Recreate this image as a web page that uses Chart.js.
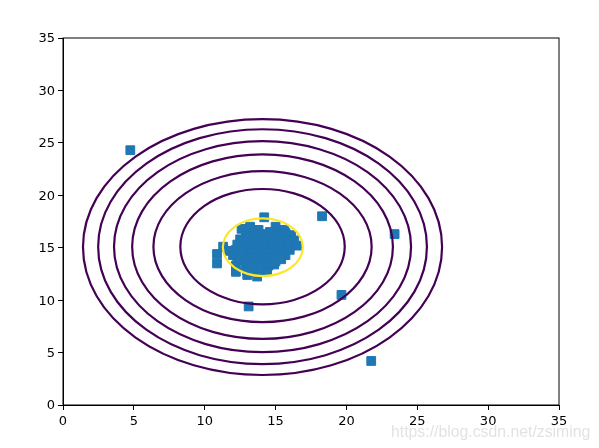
<!DOCTYPE html>
<html>
<head>
<meta charset="utf-8">
<title>Contours</title>
<script src="https://cdn.jsdelivr.net/npm/chart.js@4"></script>
<style>
    html, body { margin: 0; padding: 0; background: #fff; }
    canvas { display: block; }
</style>
</head>
<body>
<canvas id="contourChart" width="599" height="448"></canvas>
<script>
// ========== DATA ==========
const xTicks = [0, 5, 10, 15, 20, 25, 30, 35];
const yTicks = [0, 5, 10, 15, 20, 25, 30, 35];

const scatterX = [
    4.75, 18.28, 23.4, 19.65, 21.75, 13.1, 14.2,
    10.87, 10.87, 11.3, 12.2, 12.2, 13.0, 13.7,
    12.6, 13.2, 13.8, 15.0, 15.6,
    12.9, 13.5, 14.1, 14.6, 15.2, 15.7, 16.1,
    12.5, 13.0, 13.6, 14.1, 14.7, 15.3, 15.8, 16.3,
    12.3, 12.8, 13.4, 13.9, 14.5, 15.0, 15.6, 16.1, 16.55,
    11.7, 12.2, 12.8, 13.3, 13.9, 14.4, 15.0, 15.5, 16.0,
    12.0, 12.5, 13.1, 13.6, 14.2, 14.7, 15.3, 15.7,
    12.3, 12.8, 13.4, 13.9, 14.4, 15.0, 15.4,
    12.9, 13.5, 14.0, 14.5, 14.9,
    13.0, 13.6, 14.1, 14.4,
    // dense middle of the cloud
    13.2, 13.8, 14.4, 14.9, 15.5,
    12.7, 13.2, 13.7, 14.2, 14.8, 15.3, 15.9,
    12.5, 13.0, 13.6, 14.2, 14.7, 15.2, 15.8,
    12.2, 12.7, 13.3, 13.8, 14.3, 14.9, 15.4,
    12.6, 13.2, 13.7, 14.2, 14.7, 15.2,
    13.2, 13.8, 14.3, 14.7,
    13.4, 13.9
];
const scatterY = [
    24.3, 18.0, 16.3, 10.5, 4.2, 9.4, 17.9,
    14.4, 13.5, 15.1, 12.7, 13.3, 12.4, 12.25,
    16.8, 17.0, 16.7, 17.0, 16.7,
    16.2, 16.4, 16.3, 16.5, 16.3, 16.4, 16.2,
    15.8, 15.7, 15.9, 15.8, 15.7, 15.9, 15.8, 15.7,
    15.3, 15.4, 15.2, 15.3, 15.4, 15.2, 15.3, 15.3, 15.2,
    14.7, 14.8, 14.9, 14.8, 14.7, 14.8, 14.9, 14.7, 14.8,
    14.3, 14.2, 14.4, 14.3, 14.2, 14.3, 14.4, 14.3,
    13.8, 13.9, 13.7, 13.8, 13.9, 13.7, 13.9,
    13.3, 13.2, 13.4, 13.3, 13.4,
    12.8, 12.7, 12.9, 12.8,
    16.0, 16.1, 16.0, 16.1, 16.0,
    15.5, 15.6, 15.5, 15.6, 15.5, 15.6, 15.5,
    15.0, 15.1, 15.0, 15.1, 15.0, 15.1, 15.0,
    14.5, 14.6, 14.5, 14.6, 14.5, 14.6, 14.5,
    14.0, 14.1, 14.0, 14.1, 14.0, 14.1,
    13.5, 13.6, 13.5, 13.6,
    13.0, 13.1
];

// contour outlines, outermost first
const ring1X = [26.75, 25.79, 23.04, 18.93, 14.08, 9.23, 5.12, 2.37, 1.41, 2.37, 5.12, 9.23, 14.08, 18.93, 23.04, 25.79];
const ring1Y = [15.06, 19.73, 23.69, 26.33, 27.26, 26.33, 23.69, 19.73, 15.06, 10.39, 6.43, 3.79, 2.86, 3.79, 6.43, 10.39];
const ring2X = [25.68, 24.8, 22.28, 18.52, 14.08, 9.64, 5.88, 3.36, 2.48, 3.36, 5.88, 9.64, 14.08, 18.52, 22.28, 24.8];
const ring2Y = [15.1, 19.39, 23.02, 25.45, 26.3, 25.45, 23.02, 19.39, 15.1, 10.81, 7.18, 4.75, 3.9, 4.75, 7.18, 10.81];
const ring3X = [24.56, 23.76, 21.49, 18.09, 14.08, 10.07, 6.67, 4.4, 3.6, 4.4, 6.67, 10.07, 14.08, 18.09, 21.49, 23.76];
const ring3Y = [15.1, 18.95, 22.21, 24.39, 25.16, 24.39, 22.21, 18.95, 15.1, 11.25, 7.99, 5.81, 5.04, 5.81, 7.99, 11.25];
const ring4X = [23.28, 22.58, 20.58, 17.6, 14.08, 10.56, 7.58, 5.58, 4.88, 5.58, 7.58, 10.56, 14.08, 17.6, 20.58, 22.58];
const ring4Y = [15.1, 18.47, 21.32, 23.23, 23.9, 23.23, 21.32, 18.47, 15.1, 11.73, 8.88, 6.97, 6.3, 6.97, 8.88, 11.73];
const ring5X = [21.78, 21.19, 19.52, 17.03, 14.08, 11.13, 8.64, 6.97, 6.38, 6.97, 8.64, 11.13, 14.08, 17.03, 19.52, 21.19];
const ring5Y = [15.1, 17.86, 20.19, 21.75, 22.3, 21.75, 20.19, 17.86, 15.1, 12.34, 10.01, 8.45, 7.9, 8.45, 10.01, 12.34];
const ring6X = [19.88, 19.44, 18.18, 16.3, 14.08, 11.86, 9.98, 8.72, 8.28, 8.72, 9.98, 11.86, 14.08, 16.3, 18.18, 19.44];
const ring6Y = [15.1, 17.21, 18.99, 20.18, 20.6, 20.18, 18.99, 17.21, 15.1, 12.99, 11.21, 10.02, 9.6, 10.02, 11.21, 12.99];
const innerX = [16.92, 16.71, 16.09, 15.18, 14.1, 13.02, 12.11, 11.49, 11.28, 11.49, 12.11, 13.02, 14.1, 15.18, 16.09, 16.71];
const innerY = [15.05, 16.1, 16.99, 17.59, 17.8, 17.59, 16.99, 16.1, 15.05, 14, 13.11, 12.51, 12.3, 12.51, 13.11, 14];

const watermark = 'https://blog.csdn.net/zsiming';

// ========== HELPERS ==========
function toPoints(xs, ys) {
    return xs.map((x, i) => ({ x: x, y: ys[i] }));
}

// one extra point on each end keeps the curve smooth at the seam, those two pieces stay unseen
function closedRing(xs, ys, color) {
    const pts = toPoints(xs, ys);
    const last = pts.length - 1;
    return {
        data: [pts[last]].concat(pts, pts.slice(0, 2)),
        showLine: true,
        borderColor: color,
        borderWidth: 2.2,
        pointRadius: 0,
        tension: 0.347,
        fill: false,
        order: 1,
        segment: {
            borderColor: c => (c.p0DataIndex === 0 || c.p0DataIndex === pts.length + 1 ? 'transparent' : undefined)
        }
    };
}

function axisOptions(ticks) {
    return {
        type: 'linear',
        min: 0,
        max: 35,
        afterBuildTicks: scale => { scale.ticks = ticks.map(v => ({ value: v })); },
        grid: { drawOnChartArea: false, color: '#000', tickLength: 5, tickWidth: 1 },
        border: { color: '#000', width: 1 },
        ticks: {
            color: '#000',
            padding: 3,
            maxRotation: 0,
            autoSkip: false,
            font: { family: 'DejaVu Sans', size: 13 }
        }
    };
}

// top and right spines, plus the watermark in the corner
const framePlugin = {
    id: 'frame',
    afterDraw(chart) {
        const { ctx, chartArea: a } = chart;
        ctx.save();
        ctx.strokeStyle = '#000';
        ctx.lineWidth = 1;
        ctx.strokeRect(a.left, a.top, a.right - a.left, a.bottom - a.top);
        ctx.font = '15.8px "Liberation Sans"';
        ctx.fillStyle = 'rgba(190,190,190,0.45)';
        ctx.textBaseline = 'alphabetic';
        ctx.fillText(watermark, 391, 437);
        ctx.restore();
    }
};

// ========== CHART ==========
const xAxis = axisOptions(xTicks);
xAxis.afterFit = scale => { scale.height = 43; };
xAxis.ticks.padding = 4;
const yAxis = axisOptions(yTicks);
yAxis.afterFit = scale => { scale.width = 63; };
yAxis.ticks.labelOffset = 1;

new Chart(document.getElementById('contourChart').getContext('2d'), {
    type: 'scatter',
    data: {
        datasets: [
            closedRing(ring1X, ring1Y, '#440154'),
            closedRing(ring2X, ring2Y, '#440154'),
            closedRing(ring3X, ring3Y, '#440154'),
            closedRing(ring4X, ring4Y, '#440154'),
            closedRing(ring5X, ring5Y, '#440154'),
            closedRing(ring6X, ring6Y, '#440154'),
            closedRing(innerX, innerY, '#fde725'),
            {
                data: toPoints(scatterX, scatterY),
                pointStyle: 'rect',
                pointRadius: 6.2,
                pointBorderWidth: 1,
                borderColor: '#1f77b4',
                backgroundColor: '#1f77b4',
                order: 2
            }
        ]
    },
    options: {
        responsive: false,
        animation: false,
        layout: { padding: { top: 38, right: 40, left: 0, bottom: 0 } },
        plugins: { legend: { display: false }, tooltip: { enabled: false } },
        scales: { x: xAxis, y: yAxis }
    },
    plugins: [framePlugin]
});
</script>
</body>
</html>
